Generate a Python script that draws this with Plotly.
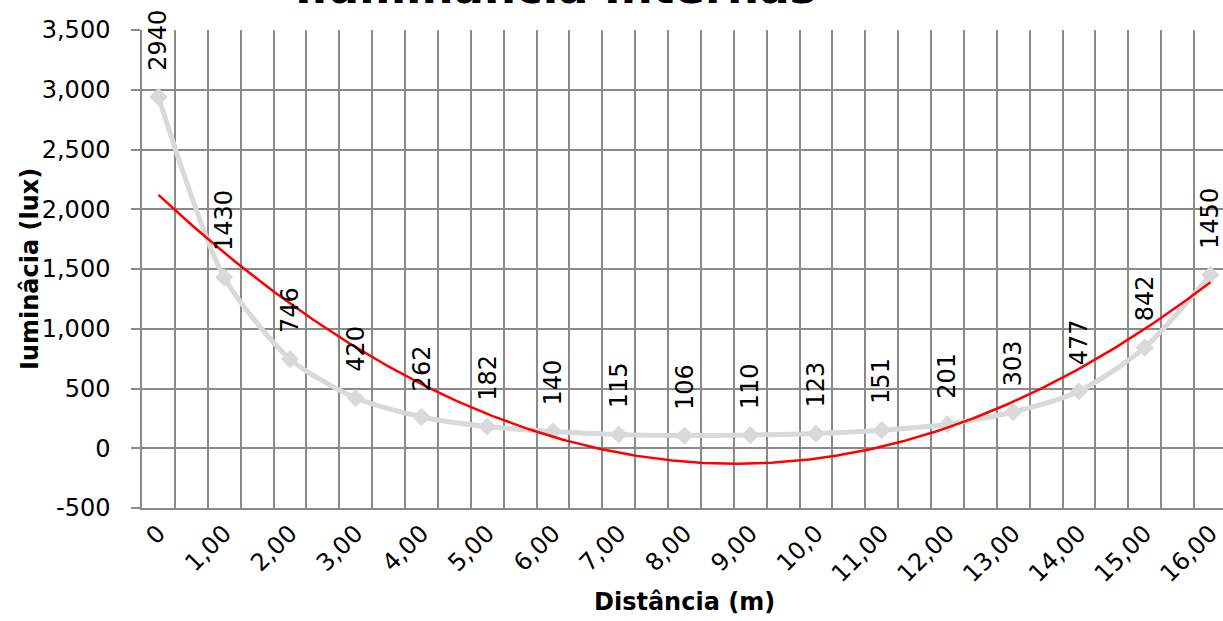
import numpy as np
import plotly.graph_objects as go

# ---- data ----
x_labels = ["0", "1,00", "2,00", "3,00", "4,00", "5,00", "6,00", "7,00", "8,00",
            "9,00", "10,0", "11,00", "12,00", "13,00", "14,00", "15,00", "16,00"]
lux = [2940, 1430, 746, 420, 262, 182, 140, 115, 106, 110, 123, 151, 201, 303, 477, 842, 1450]
y_tickvals = [-500, 0, 500, 1000, 1500, 2000, 2500, 3000, 3500]
y_ticktext = ["-500", "0", "500", "1,000", "1,500", "2,000", "2,500", "3,000", "3,500"]

title_text = "Iluminância Internas"
x_title = "Distância (m)"
y_title = "Iuminâcia (lux)"

xpos = list(range(len(lux)))

# polynomial (order 2) trendline fitted to the series
coef = np.polyfit(xpos, lux, 2)
xt = np.linspace(0, len(lux) - 1, 300)
yt = np.polyval(coef, xt)

FONT = "DejaVu Sans"
GRID = "#8a8a8a"

fig = go.Figure()
fig.add_trace(go.Scatter(
    x=xpos, y=lux, mode="lines+markers",
    line=dict(color="#d9d9d9", width=5, shape="spline", smoothing=0.7),
    marker=dict(symbol="diamond", size=14, color="#d9d9d9"),
    showlegend=False, cliponaxis=False,
))
fig.add_trace(go.Scatter(
    x=xt, y=yt, mode="lines",
    line=dict(color="#ff0000", width=2.5),
    showlegend=False,
))

annotations = []
for xi, v in zip(xpos, lux):
    annotations.append(dict(
        x=xi, y=v, xref="x", yref="y", text=str(v), showarrow=False,
        textangle=-90, yanchor="bottom", xanchor="center", yshift=24,
        font=dict(family=FONT, size=24, color="#000000"),
    ))

L, R, T, B = 142, 0, 30, 113
W, H = 1223, 621
pw = W - L - R
ph = H - T - B

annotations.append(dict(
    text=title_text, showarrow=False, xref="paper", yref="paper",
    x=(555.5 - L) / pw, y=1 + (T + 13) / ph, xanchor="center", yanchor="middle",
    font=dict(family=FONT, size=45, color="#000000", weight="bold"),
))
annotations.append(dict(
    text=x_title, showarrow=False, xref="paper", yref="paper",
    x=(684 - L) / pw, y=-(602 - (T + ph)) / ph, xanchor="center", yanchor="middle",
    font=dict(family=FONT, size=24, color="#000000", weight="bold"),
))
annotations.append(dict(
    text=y_title, showarrow=False, xref="paper", yref="paper", textangle=-90,
    x=(30 - L) / pw, y=0.5, xanchor="center", yanchor="middle",
    font=dict(family=FONT, size=24, color="#000000", weight="bold"),
))

fig.update_layout(
    width=W, height=H,
    margin=dict(l=L, r=R, t=T, b=B),
    paper_bgcolor="white", plot_bgcolor="white",
    font=dict(family=FONT, size=24, color="#000000"),
    annotations=annotations,
    xaxis=dict(
        range=[-0.25, (pw / 65.75) - 0.25],
        tickmode="array", tickvals=xpos, ticktext=x_labels, tickangle=-45,
        showgrid=False, zeroline=False, ticks="",
        showline=True, linecolor=GRID, linewidth=1.5,
        minor=dict(tick0=0.25, dtick=0.5, showgrid=True, gridcolor=GRID, gridwidth=1.5, ticks=""),
        tickfont=dict(family=FONT, size=24, color="#000000"),
        ticklabeloverflow="allow",
    ),
    yaxis=dict(
        range=[-500, 3500],
        tickmode="array", tickvals=y_tickvals, ticktext=y_ticktext,
        showgrid=True, gridcolor=GRID, gridwidth=1.5, zeroline=False,
        ticks="outside", ticklen=9, tickcolor=GRID, tickwidth=1.5,
        showline=True, linecolor=GRID, linewidth=1.5,
        ticklabelstandoff=16,
        tickfont=dict(family=FONT, size=24, color="#000000"),
    ),
)

fig.write_html(
    "out.html",
    config={"displayModeBar": False},
    post_script="document.body.style.margin='0px';document.body.style.overflow='hidden';",
)
